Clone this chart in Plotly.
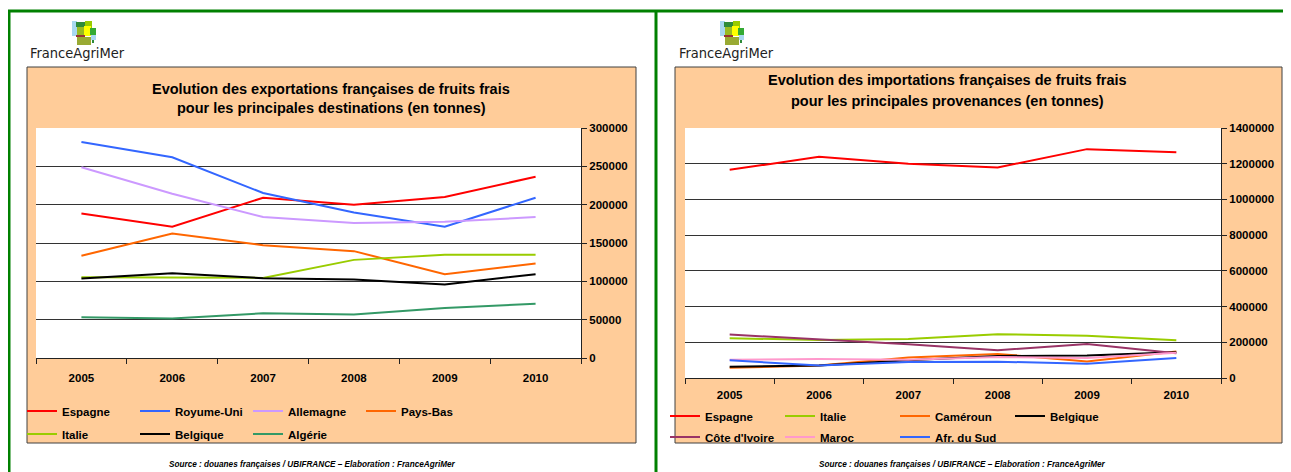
import plotly.graph_objects as go

W, H = 1291, 472
OFF = 8  # page body margin in the browser

years = ["2005", "2006", "2007", "2008", "2009", "2010"]

# Exports (tonnes) by destination
exp_espagne = [188600, 171200, 209100, 199900, 209900, 236500]
exp_royaume_uni = [281800, 261800, 215200, 189900, 171200, 209100]
exp_allemagne = [248700, 214300, 183800, 176000, 177700, 183800]
exp_pays_bas = [133300, 162500, 147200, 139400, 109300, 123300]
exp_italie = [105400, 105400, 104500, 128000, 134600, 134600]
exp_belgique = [103700, 110600, 104100, 102400, 95800, 109300]
exp_algerie = [53100, 51400, 58400, 56600, 65300, 70600]

# Imports (tonnes) by origin
imp_espagne = [1165600, 1238600, 1199300, 1178700, 1281600, 1264800]
imp_italie = [222800, 213100, 218800, 245700, 236000, 211400]
imp_cameroun = [57100, 70300, 114300, 134900, 93100, 148600]
imp_belgique = [62900, 70300, 100000, 123400, 125700, 144600]
imp_cote_ivoire = [243400, 217100, 188600, 156000, 190300, 138900]
imp_maroc = [102900, 106300, 102900, 117700, 112000, 141000]
imp_afr_sud = [98900, 70300, 89100, 91400, 80000, 112000]

exp_ticks = [0, 50000, 100000, 150000, 200000, 250000, 300000]
imp_ticks = [0, 200000, 400000, 600000, 800000, 1000000, 1200000, 1400000]

C_RED = "#FF0000"
C_BLUE = "#3366FF"
C_LILAC = "#CC99FF"
C_ORANGE = "#FF6600"
C_LIME = "#99CC00"
C_BLACK = "#000000"
C_GREEN = "#339966"
C_PLUM = "#993366"
C_PINK = "#FF99CC"

FONT = "Liberation Sans, Arial, sans-serif"


def px(x):
    return (x - OFF) / W


def py(y):
    return 1 - (y - OFF) / H


fig = go.Figure()

exp_series = [
    ("Espagne", exp_espagne, C_RED, "legend"),
    ("Royume-Uni", exp_royaume_uni, C_BLUE, "legend"),
    ("Allemagne", exp_allemagne, C_LILAC, "legend"),
    ("Pays-Bas", exp_pays_bas, C_ORANGE, "legend"),
    ("Italie", exp_italie, C_LIME, "legend2"),
    ("Belgique", exp_belgique, C_BLACK, "legend2"),
    ("Algérie", exp_algerie, C_GREEN, "legend2"),
]
imp_series = [
    ("Espagne", imp_espagne, C_RED, "legend3"),
    ("Italie", imp_italie, C_LIME, "legend3"),
    ("Caméroun", imp_cameroun, C_ORANGE, "legend3"),
    ("Belgique", imp_belgique, C_BLACK, "legend3"),
    ("Côte d'Ivoire", imp_cote_ivoire, C_PLUM, "legend4"),
    ("Maroc", imp_maroc, C_PINK, "legend4"),
    ("Afr. du Sud", imp_afr_sud, C_BLUE, "legend4"),
]

for name, vals, col, leg in exp_series:
    fig.add_trace(go.Scatter(x=years, y=vals, name=name, mode="lines",
                             line=dict(color=col, width=2), legend=leg,
                             xaxis="x", yaxis="y"))
for name, vals, col, leg in imp_series:
    fig.add_trace(go.Scatter(x=years, y=vals, name=name, mode="lines",
                             line=dict(color=col, width=2), legend=leg,
                             xaxis="x2", yaxis="y2"))

tickfont = dict(family=FONT, size=11.5, color="black", weight="bold")

xcommon = dict(type="category", range=[-0.5, 5.5], showgrid=False, showline=True,
               linecolor="#222", linewidth=1, ticks="outside", ticklen=5, tickcolor="#222",
               tickson="boundaries", tickfont=tickfont, fixedrange=True, automargin=False)
ycommon = dict(side="right", showgrid=True, gridcolor="#333", gridwidth=1,
               showline=True, linecolor="#222", linewidth=1, ticks="outside",
               ticklen=5, tickcolor="#222", tickfont=tickfont, zeroline=False,
               tickmode="array", fixedrange=True, automargin=False)

fig.update_layout(
    width=W, height=H,
    margin=dict(l=0, r=0, t=0, b=0, autoexpand=False),
    paper_bgcolor="white",
    plot_bgcolor="rgba(0,0,0,0)",
    xaxis=dict(domain=[px(36), px(581)], anchor="y", ticklabelstandoff=9, **xcommon),
    yaxis=dict(domain=[py(358), py(128)], anchor="x", range=[0, 300000],
               tickvals=exp_ticks, ticktext=[str(v) for v in exp_ticks], **ycommon),
    xaxis2=dict(domain=[px(685), px(1221)], anchor="y2", ticklabelstandoff=6, **xcommon),
    yaxis2=dict(domain=[py(378), py(128)], anchor="x2", range=[0, 1400000],
                tickvals=imp_ticks, ticktext=[str(v) for v in imp_ticks], **ycommon),
)

legfont = dict(family=FONT, size=11.5, color="black", weight="bold")
legcommon = dict(orientation="h", xanchor="left", yanchor="middle",
                 bgcolor="rgba(0,0,0,0)", font=legfont, entrywidthmode="pixels",
                 itemclick=False, itemdoubleclick=False, traceorder="normal")
fig.update_layout(
    legend=dict(x=px(22), y=py(411), entrywidth=68, **legcommon),
    legend2=dict(x=px(22), y=py(434), entrywidth=68, **legcommon),
    legend3=dict(x=px(665), y=py(416), entrywidth=70, **legcommon),
    legend4=dict(x=px(665), y=py(437), entrywidth=70, **legcommon),
)

shapes = []
# green frame
shapes.append(dict(type="rect", xref="paper", yref="paper", x0=px(9), x1=px(1310),
                   y0=py(490), y1=py(11), line=dict(color="#008000", width=3),
                   fillcolor="rgba(0,0,0,0)", layer="below"))
shapes.append(dict(type="line", xref="paper", yref="paper", x0=px(656), x1=px(656),
                   y0=py(490), y1=py(11), line=dict(color="#008000", width=3),
                   layer="below"))
# orange chart boxes
for (l, r) in [(27, 636), (675, 1282)]:
    shapes.append(dict(type="rect", xref="paper", yref="paper", x0=px(l), x1=px(r),
                       y0=py(443), y1=py(67), line=dict(color="#404040", width=1),
                       fillcolor="#FFCC99", layer="below"))
# white plot areas
for xr, yr in [("x domain", "y domain"), ("x2 domain", "y2 domain")]:
    shapes.append(dict(type="rect", xref=xr, yref=yr, x0=0, x1=1, y0=0, y1=1,
                       line=dict(width=0), fillcolor="white", layer="below"))

# logo pieces (pixel boxes relative to logo origin)
logo_parts = [
    (0, 0, 5, 15, "#A8D8F0"),
    (4, 1, 13, 6, "#2E8B3A"),
    (13, 0, 20, 7, "#99CC00"),
    (12, 5, 19, 15, "#FFFF00"),
    (5, 6, 12, 14, "#99BB22"),
    (4, 14, 13, 16, "#993333"),
    (5, 16, 19, 24, "#99AA33"),
    (18, 7, 24, 14, "#33AA33"),
    (19, 14, 24, 19, "#A8D8F0"),
    (20, 19, 22, 22, "#2E8B3A"),
]
for ox in [72, 720]:
    for (a, b, c, d, col) in logo_parts:
        shapes.append(dict(type="rect", xref="paper", yref="paper",
                           x0=px(ox + a), x1=px(ox + c), y0=py(21 + d), y1=py(21 + b),
                           line=dict(width=0), fillcolor=col, layer="above"))

fig.update_layout(shapes=shapes)

ann = []
for txt_x in [28, 677]:
    ann.append(dict(text="FranceAgriMer", x=px(txt_x), y=py(53), xref="paper", yref="paper",
                    xanchor="left", yanchor="middle", showarrow=False,
                    font=dict(family="Liberation Sans Narrow, DejaVu Sans Condensed, sans-serif",
                              size=14.5, color="#222")))
titlefont = dict(family=FONT, size=14.5, color="black", weight="bold")
ann.append(dict(text="Evolution des exportations françaises de fruits frais",
                x=px(331), y=py(89), xref="paper", yref="paper", showarrow=False,
                xanchor="center", yanchor="middle", font=titlefont))
ann.append(dict(text="pour les principales destinations (en tonnes)",
                x=px(331), y=py(108), xref="paper", yref="paper", showarrow=False,
                xanchor="center", yanchor="middle", font=titlefont))
ann.append(dict(text="Evolution des importations françaises de fruits frais",
                x=px(947), y=py(80), xref="paper", yref="paper", showarrow=False,
                xanchor="center", yanchor="middle", font=titlefont))
ann.append(dict(text="pour les principales provenances (en tonnes)",
                x=px(947), y=py(101), xref="paper", yref="paper", showarrow=False,
                xanchor="center", yanchor="middle", font=titlefont))
srcfont = dict(family=FONT, size=8.2, color="black", weight="bold", style="italic")
for cx in [312, 962]:
    ann.append(dict(text="Source : douanes françaises / UBIFRANCE – Elaboration : FranceAgriMer",
                    x=px(cx), y=py(464), xref="paper", yref="paper", showarrow=False,
                    xanchor="center", yanchor="middle", font=srcfont))
fig.update_layout(annotations=ann)

fig.write_html("out.html")
